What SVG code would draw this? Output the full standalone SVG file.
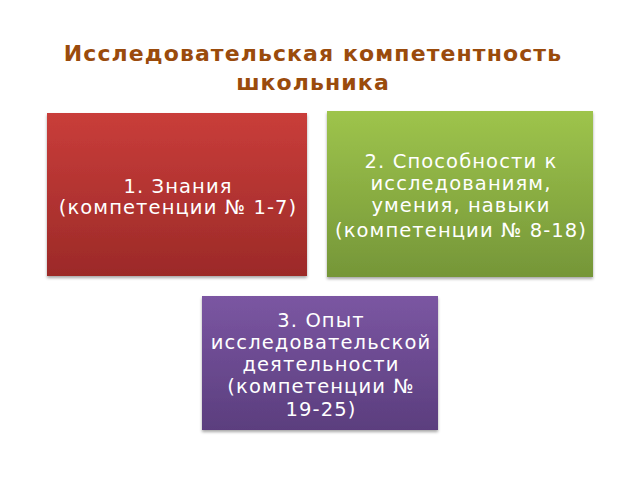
<svg xmlns="http://www.w3.org/2000/svg" width="640" height="480" viewBox="0 0 640 480">
<defs>
<linearGradient id="gr" x1="0" y1="0" x2="0" y2="1"><stop offset="0" stop-color="#c93d3a"/><stop offset="1" stop-color="#9c2a28"/></linearGradient>
<linearGradient id="gg" x1="0" y1="0" x2="0" y2="1"><stop offset="0" stop-color="#9ec44c"/><stop offset="1" stop-color="#759638"/></linearGradient>
<linearGradient id="gp" x1="0" y1="0" x2="0" y2="1"><stop offset="0" stop-color="#7b56a2"/><stop offset="1" stop-color="#5b3e7e"/></linearGradient>
<filter id="sh" x="-5%" y="-5%" width="110%" height="115%"><feDropShadow dx="0" dy="2" stdDeviation="1.5" flood-color="#000" flood-opacity="0.35"/></filter>
</defs>
<style>
.t{font-family:"DejaVu Sans",sans-serif;font-size:19.5px;letter-spacing:1.1px;fill:#fff;text-anchor:middle}
.title{font-family:"DejaVu Sans",sans-serif;font-weight:bold;font-size:22px;letter-spacing:1.1px;fill:#9a4b0c;text-anchor:middle}
</style>
<rect width="640" height="480" fill="#fff"/>
<text class="title" x="313" y="61">Исследовательская компетентность</text>
<text class="title" x="313" y="90">школьника</text>
<g id="node1">
<rect x="47" y="113" width="260" height="163" fill="url(#gr)" filter="url(#sh)"/>
<text class="t" x="178" y="193">1. Знания</text>
<text class="t" x="178" y="214">(компетенции № 1-7)</text>
</g>
<g id="node2">
<rect x="327" y="111" width="266" height="166" fill="url(#gg)" filter="url(#sh)"/>
<text class="t" x="461" y="168">2. Способности к</text>
<text class="t" x="461" y="190">исследованиям,</text>
<text class="t" x="461" y="212">умения, навыки</text>
<text class="t" x="461" y="237">(компетенции № 8-18)</text>
</g>
<g id="node3">
<rect x="202" y="296" width="236" height="134" fill="url(#gp)" filter="url(#sh)"/>
<text class="t" x="321" y="327">3. Опыт</text>
<text class="t" x="321" y="349">исследовательской</text>
<text class="t" x="321" y="371">деятельности</text>
<text class="t" x="321" y="393">(компетенции №</text>
<text class="t" x="321" y="416">19-25)</text>
</g>
<g id="connectors"/>
</svg>
